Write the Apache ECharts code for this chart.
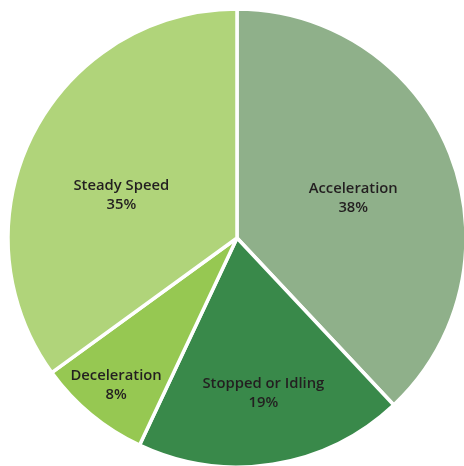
<!DOCTYPE html>
<html><head><meta charset="utf-8">
<script src="https://cdn.jsdelivr.net/npm/echarts@6/dist/echarts.min.js"></script>
<style>html,body{margin:0;padding:0;background:#fff}#c{width:464px;height:466px}</style>
</head><body><div id="c"></div>
<script>
const categories = ['Acceleration', 'Stopped or Idling', 'Deceleration', 'Steady Speed'];
const values = [38, 19, 8, 35];
const colors = ['#8fb08a', '#39894a', '#96c852', '#b0d47a'];
const labelShift = [[7, 4], [8, 39], [-46, 57], [-11, 11]];

const chart = echarts.init(document.getElementById('c'), null, {renderer: 'canvas'});
chart.setOption({
  animation: false,
  series: [{
    type: 'pie',
    center: [237, 238],
    radius: [0, 229],
    startAngle: 90,
    clockwise: true,
    avoidLabelOverlap: false,
    data: categories.map((n, i) => ({name: n, value: values[i], itemStyle: {color: colors[i]}})),
    itemStyle: {borderColor: '#fff', borderWidth: 3.5},
    label: {
      show: true, position: 'inside',
      formatter: p => p.name + '\n' + p.value + '%',
      fontFamily: 'Open Sans', fontWeight: 600, fontSize: 14.8, lineHeight: 19,
      color: '#231f20'
    },
    labelLine: {show: false},
    labelLayout: p => ({dx: labelShift[p.dataIndex][0], dy: labelShift[p.dataIndex][1]}),
    emphasis: {disabled: true}
  }]
});
</script></body></html>
